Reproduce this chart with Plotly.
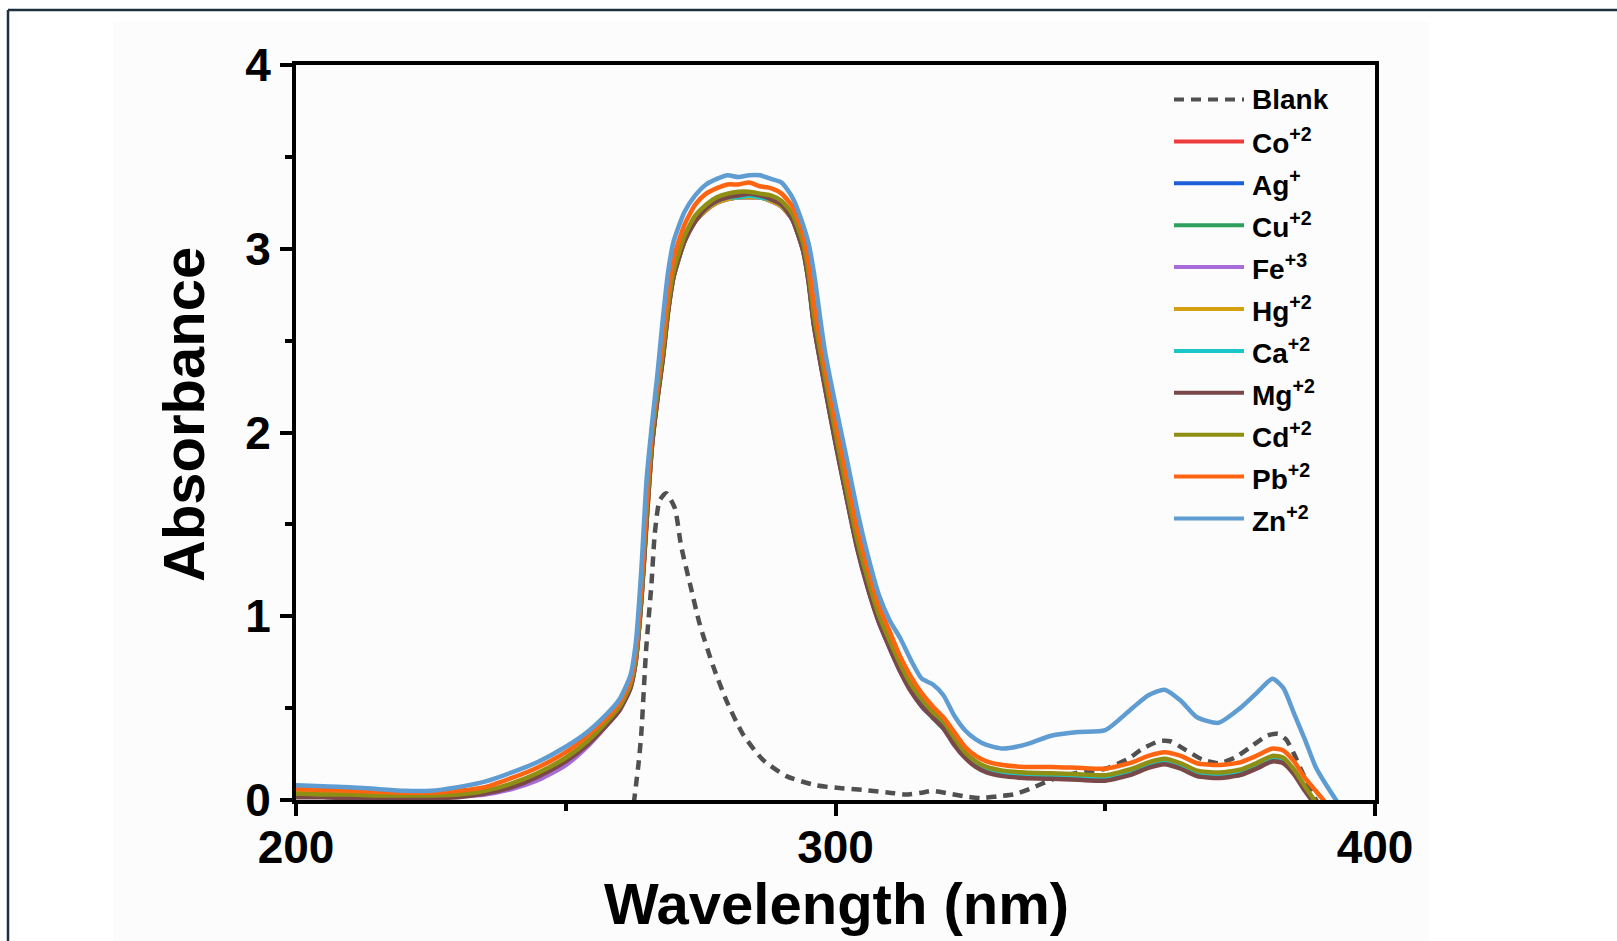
import plotly.graph_objects as go

# ---------------- data ----------------
wavelength = [200, 205, 210, 215, 220, 225, 230, 235, 240, 245,
              250, 254, 258, 260, 262, 263, 264, 265, 266, 267,
              268, 269, 270, 272, 274, 276, 278, 280, 282, 284,
              286, 288, 290, 292, 294, 295, 296, 298, 300, 302,
              304, 306, 308, 310, 312, 314, 316, 318, 320, 322,
              324, 326, 328, 331, 335, 340, 345, 350, 355, 358,
              361, 364, 367, 371, 375, 378, 381, 383, 385, 387,
              389, 391, 393]

co = [0.03, 0.025, 0.02, 0.02, 0.02, 0.02, 0.025, 0.045, 0.085, 0.14,
      0.22, 0.31, 0.43, 0.50, 0.62, 0.77, 1.10, 1.55, 1.95, 2.20,
      2.42, 2.68, 2.86, 3.05, 3.16, 3.22, 3.26, 3.28, 3.29, 3.29,
      3.28, 3.27, 3.24, 3.17, 3.00, 2.84, 2.60, 2.27, 1.96, 1.67,
      1.39, 1.17, 0.98, 0.84, 0.71, 0.60, 0.52, 0.46, 0.40, 0.31,
      0.24, 0.19, 0.16, 0.14, 0.13, 0.125, 0.12, 0.115, 0.15, 0.185,
      0.205, 0.18, 0.14, 0.13, 0.145, 0.18, 0.22, 0.21, 0.15, 0.06,
      -0.02, None, None]

ag = [0.025, 0.02, 0.02, 0.015, 0.015, 0.02, 0.02, 0.04, 0.08, 0.14,
      0.22, 0.31, 0.43, 0.50, 0.62, 0.77, 1.09, 1.54, 1.94, 2.19,
      2.41, 2.67, 2.85, 3.04, 3.15, 3.21, 3.25, 3.27, 3.28, 3.28,
      3.28, 3.26, 3.23, 3.16, 2.99, 2.83, 2.59, 2.26, 1.95, 1.66,
      1.38, 1.16, 0.98, 0.84, 0.71, 0.60, 0.51, 0.45, 0.39, 0.31,
      0.24, 0.19, 0.16, 0.14, 0.13, 0.125, 0.12, 0.115, 0.15, 0.185,
      0.205, 0.18, 0.14, 0.13, 0.145, 0.18, 0.22, 0.21, 0.15, 0.06,
      -0.02, None, None]

cu = [0.03, 0.025, 0.025, 0.02, 0.02, 0.02, 0.025, 0.045, 0.085, 0.145,
      0.225, 0.315, 0.435, 0.505, 0.625, 0.775, 1.11, 1.56, 1.96, 2.21,
      2.43, 2.69, 2.87, 3.05, 3.16, 3.22, 3.26, 3.28, 3.29, 3.29,
      3.29, 3.27, 3.24, 3.17, 3.01, 2.85, 2.61, 2.28, 1.97, 1.68,
      1.40, 1.18, 0.99, 0.85, 0.72, 0.61, 0.53, 0.46, 0.40, 0.32,
      0.25, 0.20, 0.17, 0.15, 0.14, 0.13, 0.125, 0.12, 0.155, 0.19,
      0.21, 0.185, 0.145, 0.135, 0.15, 0.185, 0.225, 0.215, 0.155, 0.065,
      -0.02, None, None]

fe = [0.02, 0.02, 0.015, 0.015, 0.015, 0.015, 0.02, 0.03, 0.06, 0.11,
      0.19, 0.29, 0.42, 0.49, 0.61, 0.76, 1.09, 1.53, 1.94, 2.19,
      2.41, 2.67, 2.85, 3.04, 3.15, 3.21, 3.25, 3.27, 3.28, 3.28,
      3.28, 3.26, 3.23, 3.16, 2.99, 2.83, 2.59, 2.26, 1.95, 1.66,
      1.38, 1.16, 0.97, 0.83, 0.70, 0.60, 0.51, 0.45, 0.39, 0.31,
      0.24, 0.19, 0.16, 0.14, 0.13, 0.125, 0.12, 0.115, 0.15, 0.185,
      0.205, 0.18, 0.14, 0.13, 0.145, 0.18, 0.22, 0.21, 0.15, 0.06,
      -0.02, None, None]

hg = [0.04, 0.035, 0.03, 0.03, 0.025, 0.025, 0.03, 0.045, 0.08, 0.14,
      0.22, 0.31, 0.43, 0.50, 0.62, 0.77, 1.08, 1.52, 1.93, 2.19,
      2.41, 2.67, 2.85, 3.04, 3.15, 3.21, 3.25, 3.27, 3.28, 3.28,
      3.28, 3.26, 3.23, 3.16, 2.99, 2.83, 2.59, 2.26, 1.95, 1.66,
      1.38, 1.16, 0.98, 0.84, 0.71, 0.60, 0.52, 0.45, 0.39, 0.31,
      0.24, 0.19, 0.16, 0.145, 0.135, 0.13, 0.125, 0.12, 0.155, 0.19,
      0.21, 0.185, 0.145, 0.135, 0.15, 0.185, 0.225, 0.215, 0.155, 0.065,
      -0.02, None, None]

ca = [0.02, 0.02, 0.015, 0.015, 0.015, 0.015, 0.02, 0.04, 0.08, 0.14,
      0.22, 0.31, 0.43, 0.50, 0.62, 0.77, 1.10, 1.55, 1.95, 2.20,
      2.42, 2.68, 2.86, 3.05, 3.16, 3.22, 3.26, 3.28, 3.28, 3.29,
      3.28, 3.27, 3.24, 3.17, 3.00, 2.84, 2.60, 2.27, 1.96, 1.67,
      1.39, 1.17, 0.98, 0.84, 0.71, 0.60, 0.52, 0.45, 0.39, 0.31,
      0.24, 0.19, 0.16, 0.14, 0.13, 0.125, 0.12, 0.115, 0.15, 0.185,
      0.205, 0.18, 0.14, 0.13, 0.145, 0.18, 0.22, 0.21, 0.15, 0.06,
      -0.02, None, None]

mg = [0.015, 0.015, 0.01, 0.01, 0.01, 0.01, 0.015, 0.035, 0.07, 0.13,
      0.21, 0.30, 0.42, 0.49, 0.61, 0.76, 1.08, 1.52, 1.93, 2.18,
      2.40, 2.66, 2.85, 3.04, 3.15, 3.22, 3.26, 3.28, 3.29, 3.30,
      3.29, 3.27, 3.24, 3.16, 2.99, 2.82, 2.58, 2.25, 1.94, 1.65,
      1.37, 1.15, 0.97, 0.83, 0.70, 0.59, 0.51, 0.45, 0.39, 0.30,
      0.23, 0.18, 0.15, 0.13, 0.12, 0.115, 0.11, 0.105, 0.14, 0.175,
      0.195, 0.17, 0.13, 0.12, 0.135, 0.17, 0.21, 0.20, 0.14, 0.05,
      -0.03, None, None]

cd = [0.035, 0.03, 0.03, 0.025, 0.025, 0.025, 0.03, 0.05, 0.09, 0.15,
      0.23, 0.32, 0.44, 0.51, 0.63, 0.78, 1.12, 1.58, 1.98, 2.22,
      2.44, 2.70, 2.88, 3.07, 3.18, 3.24, 3.28, 3.30, 3.31, 3.31,
      3.30, 3.29, 3.26, 3.19, 3.03, 2.87, 2.64, 2.31, 2.00, 1.70,
      1.42, 1.20, 1.01, 0.87, 0.74, 0.63, 0.55, 0.48, 0.43, 0.34,
      0.26, 0.21, 0.18, 0.16, 0.15, 0.145, 0.14, 0.135, 0.17, 0.205,
      0.225, 0.20, 0.16, 0.15, 0.165, 0.20, 0.24, 0.23, 0.165, 0.075,
      -0.01, None, None]

pb = [0.06, 0.055, 0.05, 0.045, 0.04, 0.04, 0.05, 0.07, 0.12, 0.18,
      0.26, 0.35, 0.46, 0.53, 0.65, 0.81, 1.16, 1.62, 2.02, 2.27,
      2.51, 2.77, 2.95, 3.13, 3.24, 3.30, 3.33, 3.35, 3.35, 3.36,
      3.34, 3.33, 3.30, 3.23, 3.08, 2.93, 2.71, 2.37, 2.06, 1.77,
      1.48, 1.26, 1.06, 0.92, 0.78, 0.67, 0.58, 0.51, 0.45, 0.37,
      0.29, 0.24, 0.21, 0.19, 0.18, 0.18, 0.175, 0.17, 0.205, 0.24,
      0.26, 0.24, 0.20, 0.19, 0.205, 0.24, 0.28, 0.27, 0.21, 0.12,
      0.05, -0.02, None]

zn = [0.08, 0.075, 0.07, 0.06, 0.05, 0.05, 0.07, 0.10, 0.15, 0.21,
      0.29, 0.37, 0.48, 0.55, 0.68, 0.86, 1.25, 1.75, 2.05, 2.32,
      2.62, 2.88, 3.04, 3.20, 3.29, 3.35, 3.38, 3.40, 3.39, 3.40,
      3.40, 3.38, 3.36, 3.28, 3.13, 3.03, 2.87, 2.45, 2.15, 1.87,
      1.58, 1.33, 1.12, 0.98, 0.88, 0.76, 0.66, 0.63, 0.57, 0.46,
      0.38, 0.33, 0.30, 0.28, 0.30, 0.35, 0.37, 0.38, 0.50, 0.57,
      0.60, 0.54, 0.45, 0.42, 0.50, 0.58, 0.66, 0.61, 0.47, 0.33,
      0.18, 0.08, -0.01]

blank_wavelength = [262.6, 263.5, 264.0, 264.9, 265.9, 266.5, 267.4, 268.6, 270.2, 271.4,
                    273.0, 274.8, 277.3, 279.8, 282.8, 286.5, 290.9, 296.4, 300.7, 305,
                    310, 313, 316, 318, 321, 324, 327, 330, 333, 336,
                    340, 345, 350, 354, 357, 360, 362, 365, 368, 371,
                    374, 377, 380, 382, 383.5, 385, 387, 388.5, 389.5]
blank = [-0.02, 0.2, 0.36, 0.82, 1.18, 1.45, 1.63, 1.67, 1.59, 1.38,
         1.18, 0.96, 0.73, 0.54, 0.36, 0.22, 0.13, 0.08, 0.065, 0.055,
         0.04, 0.03, 0.04, 0.05, 0.035, 0.02, 0.01, 0.02, 0.03, 0.06,
         0.11, 0.15, 0.17, 0.22, 0.28, 0.32, 0.32, 0.27, 0.22, 0.20,
         0.23, 0.29, 0.35, 0.36, 0.33, 0.25, 0.12, 0.03, -0.02]

series_labels = ["Co<sup>+2</sup>", "Ag<sup>+</sup>", "Cu<sup>+2</sup>", "Fe<sup>+3</sup>",
                 "Hg<sup>+2</sup>", "Ca<sup>+2</sup>", "Mg<sup>+2</sup>", "Cd<sup>+2</sup>",
                 "Pb<sup>+2</sup>", "Zn<sup>+2</sup>"]
series_values = [co, ag, cu, fe, hg, ca, mg, cd, pb, zn]
series_colors = ["#EE3B3B", "#1C5FD9", "#2CA05C", "#A86CD8", "#D4A010",
                 "#19C7C9", "#7A4848", "#8F8F14", "#FF6410", "#5E9CD2"]
blank_label = "Blank"
blank_color = "#505050"

x_ticks = [200, 300, 400]
y_ticks = [0, 1, 2, 3, 4]

# ---------------- layout geometry (pixels) ----------------
W_PX, H_PX = 1617, 941
ML, MR, MT, MB = 296, 242, 65, 141
PW = W_PX - ML - MR
PH = H_PX - MT - MB


def px(xp):
    return (xp - ML) / PW


def py(yp):
    return (H_PX - MB - yp) / PH


FONT = "Liberation Sans, Arial, sans-serif"

fig = go.Figure()

fig.add_trace(go.Scatter(x=blank_wavelength, y=blank, mode="lines", name=blank_label,
                         line=dict(color=blank_color, width=4.5, dash="10px,7px",
                                   shape="spline", smoothing=0.6),
                         showlegend=False))
for lab, vals, col in zip(series_labels, series_values, series_colors):
    fig.add_trace(go.Scatter(x=wavelength, y=vals, mode="lines", name=lab,
                             line=dict(color=col, width=4.5, shape="spline", smoothing=0.6),
                             connectgaps=False, showlegend=False))

axis_common = dict(showline=True, linewidth=4, linecolor="black", mirror=True,
                   showgrid=False, zeroline=False, ticks="outside", ticklen=12,
                   tickwidth=3.5, tickcolor="black",
                   tickfont=dict(family=FONT, size=46, color="black", weight="bold"))

fig.update_xaxes(range=[200, 400], tickvals=x_ticks, ticklabelstandoff=-8,
                 minor=dict(ticks="outside", ticklen=7, tickwidth=3.5, tickcolor="black", dtick=50),
                 **axis_common)
fig.update_yaxes(range=[0, 4], tickvals=y_ticks,
                 minor=dict(ticks="outside", ticklen=7, tickwidth=3.5, tickcolor="black", dtick=0.5),
                 **axis_common)

shapes = []
annotations = []

# faint textured backdrop and page frame
shapes.append(dict(type="rect", xref="paper", yref="paper", layer="below",
                   x0=px(113), x1=px(1430), y0=py(941), y1=py(22),
                   fillcolor="#fcfcfc", line=dict(width=0)))
shapes.append(dict(type="line", xref="paper", yref="paper",
                   x0=px(8), x1=px(1617), y0=py(10), y1=py(10),
                   line=dict(color="#1d3040", width=2.5)))
shapes.append(dict(type="line", xref="paper", yref="paper",
                   x0=px(8), x1=px(8), y0=py(10), y1=py(941),
                   line=dict(color="#1d3040", width=2.5)))

# axis titles
annotations.append(dict(text="Wavelength (nm)", xref="paper", yref="paper",
                        x=px(836), y=py(903), xanchor="center", yanchor="middle",
                        showarrow=False, font=dict(family=FONT, size=58, color="black", weight="bold")))
annotations.append(dict(text="Absorbance", xref="paper", yref="paper",
                        x=px(183), y=py(415), xanchor="center", yanchor="middle", textangle=-90,
                        showarrow=False, font=dict(family=FONT, size=58, color="black", weight="bold")))

# legend (drawn manually to match long line samples)
leg_labels = [blank_label] + series_labels
leg_colors = [blank_color] + series_colors
leg_dash = ["10px,7px"] + ["solid"] * len(series_labels)
y0_leg, dy_leg = 99.5, 41.9
for i, (lab, col, dsh) in enumerate(zip(leg_labels, leg_colors, leg_dash)):
    yy = y0_leg + i * dy_leg
    shapes.append(dict(type="line", xref="paper", yref="paper",
                       x0=px(1174), x1=px(1244), y0=py(yy), y1=py(yy),
                       line=dict(color=col, width=4, dash=dsh)))
    annotations.append(dict(text=lab, xref="paper", yref="paper",
                            x=px(1250), y=py(yy), xanchor="left", yanchor="middle",
                            showarrow=False,
                            font=dict(family=FONT, size=28, color="black", weight="bold")))

fig.update_layout(width=W_PX, height=H_PX, autosize=False,
                  margin=dict(l=ML, r=MR, t=MT, b=MB, pad=0),
                  paper_bgcolor="white", plot_bgcolor="rgba(0,0,0,0)",
                  showlegend=False, shapes=shapes, annotations=annotations)

fig.write_html("out.html")
